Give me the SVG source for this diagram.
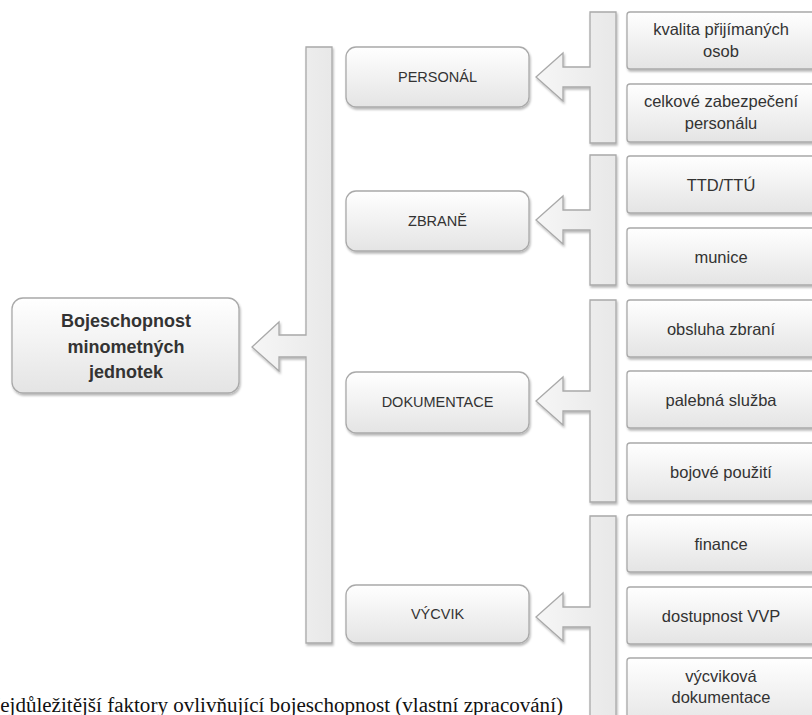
<svg xmlns="http://www.w3.org/2000/svg" width="812" height="715" viewBox="0 0 812 715">
<defs>
<linearGradient id="gBox" x1="0" y1="0" x2="0" y2="1">
<stop offset="0" stop-color="#ffffff"/>
<stop offset="1" stop-color="#e4e4e4"/>
</linearGradient>
<linearGradient id="gBar" x1="0" y1="0" x2="1" y2="0">
<stop offset="0" stop-color="#f6f6f6"/>
<stop offset="1" stop-color="#e8e8e8"/>
</linearGradient>
<filter id="sh" x="-10%" y="-10%" width="130%" height="130%">
<feDropShadow dx="1" dy="2" stdDeviation="1.2" flood-color="#000" flood-opacity="0.28"/>
</filter>
</defs>
<style>
.box{fill:url(#gBox);stroke:#a9a9a9;stroke-width:1.3;filter:url(#sh)}
.bar{fill:url(#gBar);stroke:#a9a9a9;stroke-width:1.3;filter:url(#sh);stroke-linejoin:miter}
.t{font-family:"Liberation Sans",Arial,sans-serif;fill:#333;text-anchor:middle}
.cat{font-size:14.5px}
.sub{font-size:16.5px}
.main{font-size:18px;font-weight:bold}
.cap{font-family:"Liberation Serif","Times New Roman",serif;font-size:20px;fill:#111}
</style>
<rect width="812" height="715" fill="#ffffff"/>

<g id="connectors">
<path class="bar" d="M306,47 H332 V643 H306 V357 H279 V371 L252,347 L279,322 V335 H306 Z"/>
<path class="bar" d="M590,12 H616 V143 H590 V87 H563 V101 L536,77 L563,53 V67 H590 Z"/>
<path class="bar" d="M590,155 H616 V285 H590 V230 H563 V244 L536,220 L563,196 V210 H590 Z"/>
<path class="bar" d="M590,300 H616 V502 H590 V411 H563 V425 L536,401 L563,377 V391 H590 Z"/>
<path class="bar" d="M590,516 H616 V730 H590 V627 H563 V641 L536,617 L563,593 V607 H590 Z"/>
</g>

<g id="main">
<rect class="box" x="12" y="298" width="227" height="95" rx="11"/>
<text class="t main" x="126" y="327">Bojeschopnost</text>
<text class="t main" x="126" y="353">minometných</text>
<text class="t main" x="126" y="378">jednotek</text>
</g>

<g id="personal">
<rect class="box" x="346" y="47" width="183" height="60" rx="10"/>
<text class="t cat" x="437.5" y="82">PERSONÁL</text>
</g>
<g id="zbrane">
<rect class="box" x="346" y="191" width="183" height="60" rx="10"/>
<text class="t cat" x="437.5" y="226">ZBRANĚ</text>
</g>
<g id="dokumentace">
<rect class="box" x="346" y="372" width="183" height="61" rx="10"/>
<text class="t cat" x="437.5" y="407">DOKUMENTACE</text>
</g>
<g id="vycvik">
<rect class="box" x="346" y="585" width="183" height="58" rx="10"/>
<text class="t cat" x="437.5" y="619">VÝCVIK</text>
</g>

<g id="s1">
<rect class="box" x="627" y="12" width="195" height="57" rx="3"/>
<text class="t sub" x="721" y="35">kvalita přijímaných</text>
<text class="t sub" x="721" y="57">osob</text>
</g>
<g id="s2">
<rect class="box" x="627" y="84" width="195" height="58" rx="3"/>
<text class="t sub" x="721" y="107">celkové zabezpečení</text>
<text class="t sub" x="721" y="129">personálu</text>
</g>
<g id="s3">
<rect class="box" x="627" y="156" width="195" height="57" rx="3"/>
<text class="t sub" x="721" y="191">TTD/TTÚ</text>
</g>
<g id="s4">
<rect class="box" x="627" y="228" width="195" height="57" rx="3"/>
<text class="t sub" x="721" y="263">munice</text>
</g>
<g id="s5">
<rect class="box" x="627" y="300" width="195" height="57" rx="3"/>
<text class="t sub" x="721" y="335">obsluha zbraní</text>
</g>
<g id="s6">
<rect class="box" x="627" y="371" width="195" height="57" rx="3"/>
<text class="t sub" x="721" y="406">palebná služba</text>
</g>
<g id="s7">
<rect class="box" x="627" y="443" width="195" height="58" rx="3"/>
<text class="t sub" x="721" y="478">bojové použití</text>
</g>
<g id="s8">
<rect class="box" x="627" y="515" width="195" height="57" rx="3"/>
<text class="t sub" x="721" y="550">finance</text>
</g>
<g id="s9">
<rect class="box" x="627" y="587" width="195" height="57" rx="3"/>
<text class="t sub" x="721" y="622">dostupnost VVP</text>
</g>
<g id="s10">
<rect class="box" x="627" y="658" width="195" height="70" rx="3"/>
<text class="t sub" x="721" y="682">výcviková</text>
<text class="t sub" x="721" y="703">dokumentace</text>
</g>

<text class="cap" x="-15" y="712" textLength="578" lengthAdjust="spacingAndGlyphs">Nejdůležitější faktory ovlivňující bojeschopnost (vlastní zpracování)</text>
</svg>
